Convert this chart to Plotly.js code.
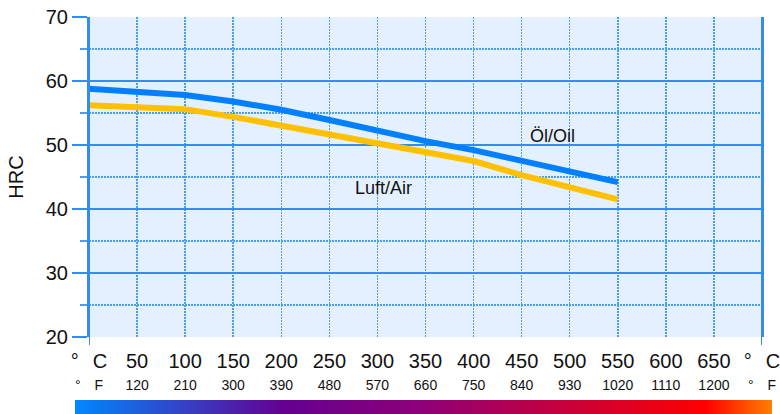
<!DOCTYPE html>
<html>
<head>
<meta charset="utf-8">
<script src="https://cdn.plot.ly/plotly-3.0.1.min.js"></script>
<style>
html,body{margin:0;padding:0;background:#fff;}
#chart{width:780px;height:414px;}
</style>
</head>
<body>
<div id="chart"></div>
<script>
// Data
const tempC = [0, 50, 100, 150, 200, 250, 300, 350, 400, 450, 500, 550];
const oilHRC = [58.8, 58.3, 57.8, 56.8, 55.5, 53.9, 52.2, 50.6, 49.2, 47.6, 45.8, 44.2];
const airHRC = [56.2, 56.0, 55.6, 54.4, 53.0, 51.7, 50.3, 48.9, 47.5, 45.3, 43.4, 41.5];

const tickC = [0, 50, 100, 150, 200, 250, 300, 350, 400, 450, 500, 550, 600, 650, 700];
const labelC = ['°\u2002\u2009C', '50', '100', '150', '200', '250', '300', '350', '400', '450', '500', '550', '600', '650', '°\u2002\u2009C'];
const labelF = ['°\u2003F', '120', '210', '300', '390', '480', '570', '660', '750', '840', '930', '1020', '1110', '1200', '°\u2003F'];

const seriesNames = ['Öl/Oil', 'Luft/Air'];

const BLUE = 'rgb(52,140,236)';
const DOTBLUE = 'rgb(78,156,238)';
const FONT = 'Liberation Sans, Arial, sans-serif';

function gradientURI() {
  const c = document.createElement('canvas');
  c.width = 700; c.height = 14;
  const g = c.getContext('2d');
  const lg = g.createLinearGradient(0, 0, 700, 0);
  lg.addColorStop(0, '#0088ff');
  lg.addColorStop(0.30, '#650092');
  lg.addColorStop(0.50, '#900078');
  lg.addColorStop(0.905, '#ff0000');
  lg.addColorStop(1, '#ff8000');
  g.fillStyle = lg;
  g.fillRect(0, 0, 700, 14);
  return c.toDataURL('image/png');
}

const traces = [
  {x: tempC, y: airHRC, type: 'scatter', mode: 'lines', name: seriesNames[1],
   line: {color: '#ffc000', width: 6}, hoverinfo: 'skip'},
  {x: tempC, y: oilHRC, type: 'scatter', mode: 'lines', name: seriesNames[0],
   line: {color: '#0080ff', width: 6}, hoverinfo: 'skip'},
  // invisible trace that activates the °F label axis
  {x: [0, 700], y: [20, 20], xaxis: 'x2', yaxis: 'y', type: 'scatter', mode: 'lines',
   line: {width: 0}, hoverinfo: 'skip', showlegend: false}
];

const layout = {
  width: 780, height: 414,
  margin: {l: 89, r: 18, t: 17, b: 77},
  paper_bgcolor: '#ffffff',
  plot_bgcolor: '#e4f0fd',
  showlegend: false,
  font: {family: FONT, color: '#111'},
  xaxis: {
    range: [0, 700], tickmode: 'array', tickvals: tickC, ticktext: labelC,
    tickfont: {size: 20, family: FONT, color: '#111'},
    showgrid: true, gridcolor: DOTBLUE, griddash: '2px,1px', gridwidth: 1.5,
    zeroline: false, showline: false, ticks: '', ticklabelstandoff: 10,
    ticklabeloverflow: 'allow'
  },
  xaxis2: {
    overlaying: 'x', anchor: 'y', side: 'bottom',
    range: [0, 700], tickmode: 'array', tickvals: tickC, ticktext: labelF,
    tickfont: {size: 14, family: FONT, color: '#111'},
    showgrid: false, zeroline: false, showline: false, ticks: '',
    ticklabelstandoff: 38, ticklabeloverflow: 'allow'
  },
  yaxis: {
    range: [20, 70], tickmode: 'array', tickvals: [20, 30, 40, 50, 60, 70],
    tickfont: {size: 20, family: FONT, color: '#111'},
    showgrid: true, gridcolor: BLUE, gridwidth: 1.5,
    ticks: 'outside', ticklen: 15, tickcolor: BLUE, tickwidth: 1.5,
    zeroline: false, showline: true, linecolor: BLUE, linewidth: 2, mirror: true,
    minor: {tickvals: [25, 35, 45, 55, 65], showgrid: true, gridcolor: DOTBLUE, griddash: '2px,1px',
            gridwidth: 1.5, ticks: 'outside', ticklen: 7, tickcolor: DOTBLUE, tickwidth: 1.5},
    title: {text: 'HRC', font: {size: 20, family: FONT, color: '#111'}, standoff: 17}
  },
  shapes: [
    {type: 'line', xref: 'x', yref: 'paper', x0: 0, x1: 0, y0: -0.025, y1: 1,
     line: {color: BLUE, width: 2}},
    {type: 'line', xref: 'x', yref: 'paper', x0: 700, x1: 700, y0: -0.025, y1: 1,
     line: {color: BLUE, width: 2}}
  ],
  annotations: [
    {x: 482, y: 51.4, xref: 'x', yref: 'y', text: seriesNames[0], showarrow: false,
     font: {size: 18, family: FONT, color: '#111'}},
    {x: 306, y: 43.3, xref: 'x', yref: 'y', text: seriesNames[1], showarrow: false,
     font: {size: 18, family: FONT, color: '#111'}}
  ],
  images: [
    {source: gradientURI(), xref: 'paper', yref: 'paper',
     x: -14/673, y: -63/320, sizex: 697/673, sizey: 14/320,
     xanchor: 'left', yanchor: 'top', sizing: 'stretch', layer: 'above'}
  ]
};

Plotly.newPlot('chart', traces, layout, {displayModeBar: false, staticPlot: true});
</script>
</body>
</html>
